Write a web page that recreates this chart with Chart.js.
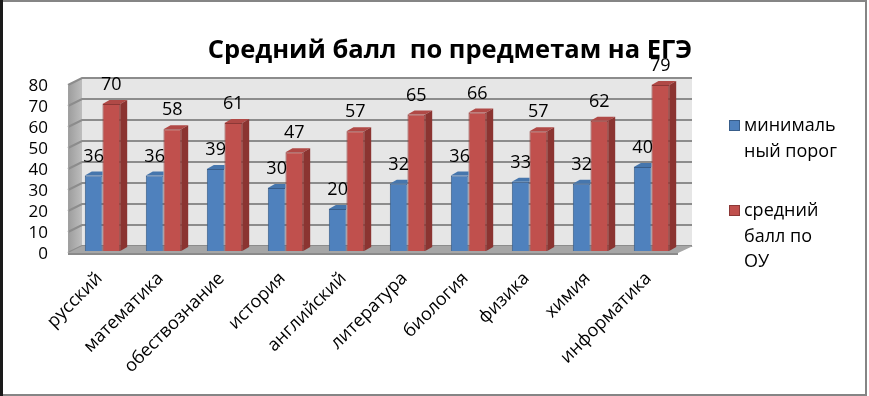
<!DOCTYPE html>
<html><head><meta charset="utf-8">
<script src="https://cdn.jsdelivr.net/npm/chart.js@4.4.1/dist/chart.umd.min.js"></script>
<style>html,body{margin:0;padding:0;background:#fff;overflow:hidden}</style>
</head><body>
<canvas id="c" width="869" height="396" style="display:block;width:869px;height:396px"></canvas>
<script>
const categories = ['русский','математика','обествознание','история','английский','литература','биология','физика','химия','информатика'];
const minScores = [36,36,39,30,20,32,36,33,32,40];
const avgScores = [70,58,61,47,57,65,66,57,62,79];
const yTicks = [0,10,20,30,40,50,60,70,80];
const seriesNames = ['минимальный порог','средний балл по ОУ'];
const legendLines = [['минималь','ный порог'],['средний','балл по','ОУ']];
const titleText = 'Средний балл  по предметам на ЕГЭ';

const FONT = '"Open Sans", "Liberation Sans", sans-serif';
const frontColors = ['#4f81bd','#c0504d'];
const borderColors = ['#385d8a','#8c3836'];
const topColors = ['#4676ad','#b04946'];
const sideColors = ['#375f8f','#8b3431'];
const BAR_DX = 7, BAR_DY = -4;

const framePlugin = {
  id:'frame',
  beforeDraw(chart){
    const ctx = chart.ctx;
    ctx.save();
    ctx.fillStyle = '#fff';
    ctx.fillRect(0,0,chart.width,chart.height);
    ctx.fillStyle = '#858585';
    ctx.fillRect(0,0,867,2);
    ctx.fillRect(865,0,2,396);
    ctx.fillRect(0,394,867,2);
    ctx.fillStyle = '#1a1a1a';
    ctx.fillRect(0,0,3,396);
    ctx.fillStyle = '#000';
    ctx.font = 'bold 25.5px ' + FONT;
    ctx.textAlign = 'center';
    ctx.textBaseline = 'middle';
    ctx.fillText(titleText, 450, 51);
    ctx.restore();
  }
};

const wallsPlugin = {
  id:'walls',
  beforeDatasetsDraw(chart){
    const ctx = chart.ctx, ca = chart.chartArea, ys = chart.scales.y;
    const bl = ca.left + 10, br = ca.right + 10;
    const bt = ys.getPixelForValue(yTicks[yTicks.length-1]) - 5;
    const bb = ys.getPixelForValue(0) - 5;
    const sf = ca.left - 4;
    ctx.save();
    ctx.fillStyle = '#e6e6e6';
    ctx.fillRect(bl, bt, br - bl, bb - bt);
    const g = ctx.createLinearGradient(sf,0,bl,0);
    g.addColorStop(0,'#9c9c9c'); g.addColorStop(1,'#bdbdbd');
    ctx.fillStyle = g;
    ctx.beginPath();
    ctx.moveTo(sf, bt+7); ctx.lineTo(bl, bt); ctx.lineTo(bl, bb); ctx.lineTo(sf, bb+7); ctx.closePath();
    ctx.fill();
    ctx.strokeStyle = '#8c8c8c';
    ctx.lineWidth = 2;
    yTicks.forEach(v => {
      const y = ys.getPixelForValue(v) - 5;
      ctx.beginPath();
      ctx.moveTo(sf, y+7); ctx.lineTo(bl, y); ctx.lineTo(br, y);
      ctx.stroke();
    });
    ctx.strokeStyle = '#a0a0a0';
    ctx.lineWidth = 1;
    ctx.beginPath(); ctx.moveTo(sf+0.5, bt+7); ctx.lineTo(sf+0.5, bb+7); ctx.stroke();
    ctx.fillStyle = '#a6a6a6';
    ctx.beginPath();
    ctx.moveTo(sf, bb+7); ctx.lineTo(bl, bb); ctx.lineTo(br+1, bb); ctx.lineTo(br-14, bb+7); ctx.closePath();
    ctx.fill();
    ctx.fillStyle = '#8a8a8a';
    ctx.fillRect(sf, bb+7, (br-14)-sf, 2);
    ctx.restore();
  }
};

const depthPlugin = {
  id:'depth',
  afterDatasetDraw(chart, args){
    const ctx = chart.ctx, meta = args.meta, di = args.index;
    const last = di === chart.data.datasets.length - 1;
    ctx.save();
    meta.data.forEach(bar => {
      const l = bar.x - bar.width/2, r = bar.x + bar.width/2, t = bar.y, b = bar.base;
      ctx.fillStyle = topColors[di];
      ctx.beginPath();
      if (last) {
        ctx.moveTo(l,t); ctx.lineTo(l+BAR_DX,t+BAR_DY); ctx.lineTo(r+BAR_DX,t+BAR_DY); ctx.lineTo(r,t);
      } else {
        ctx.moveTo(l,t); ctx.lineTo(l+BAR_DX,t+BAR_DY); ctx.lineTo(r,t+BAR_DY); ctx.lineTo(r,t);
      }
      ctx.closePath();
      ctx.fill();
      if (last) {
        ctx.fillStyle = sideColors[di];
        ctx.beginPath();
        ctx.moveTo(r,t); ctx.lineTo(r+BAR_DX,t+BAR_DY); ctx.lineTo(r+BAR_DX,b+BAR_DY); ctx.lineTo(r,b); ctx.closePath();
        ctx.fill();
      }
    });
    ctx.restore();
  }
};

const labelsPlugin = {
  id:'vlabels',
  afterDatasetsDraw(chart){
    const ctx = chart.ctx;
    ctx.save();
    ctx.fillStyle = '#000';
    ctx.font = '18px ' + FONT;
    ctx.textAlign = 'center';
    ctx.textBaseline = 'middle';
    chart.data.datasets.forEach((ds, di) => {
      chart.getDatasetMeta(di).data.forEach((bar, i) => {
        ctx.fillText(String(ds.data[i]), bar.x, bar.y - 19);
      });
    });
    ctx.restore();
  }
};

const legendPlugin = {
  id:'customLegend',
  afterDraw(chart){
    const ctx = chart.ctx;
    ctx.save();
    ctx.font = '18px ' + FONT;
    ctx.textAlign = 'left';
    ctx.textBaseline = 'middle';
    const starts = [126, 211];
    legendLines.forEach((lines, di) => {
      const y0 = starts[di];
      ctx.fillStyle = frontColors[di];
      ctx.fillRect(729, y0-6, 11, 11);
      ctx.strokeStyle = borderColors[di];
      ctx.lineWidth = 1;
      ctx.strokeRect(729.5, y0-5.5, 10, 10);
      ctx.fillStyle = '#000';
      lines.forEach((ln, k) => ctx.fillText(ln, 744, y0 + k*25.5));
    });
    ctx.restore();
  }
};

new Chart(document.getElementById('c'), {
  type:'bar',
  data:{
    labels: categories,
    datasets:[
      {label: seriesNames[0], data: minScores, backgroundColor: frontColors[0], borderColor: borderColors[0], borderWidth: 1},
      {label: seriesNames[1], data: avgScores, backgroundColor: frontColors[1], borderColor: borderColors[1], borderWidth: 1}
    ]
  },
  options:{
    responsive:false,
    animation:false,
    devicePixelRatio:1,
    layout:{padding:{left:0,right:187,top:83,bottom:0}},
    datasets:{bar:{categoryPercentage:0.58, barPercentage:1}},
    plugins:{legend:{display:false}, title:{display:false}, tooltip:{enabled:false}},
    scales:{
      x:{
        grid:{display:false, drawTicks:false},
        border:{display:false},
        ticks:{color:'#000', font:{family:FONT, size:18}, maxRotation:45, minRotation:45, autoSkip:false, padding:17, labelOffset:-3},
        afterFit(s){ s.height = 145; }
      },
      y:{
        min:0, max:80,
        grid:{display:false, drawTicks:false},
        border:{display:false},
        afterBuildTicks(s){ s.ticks = yTicks.map(v => ({value:v})); },
        ticks:{color:'#000', font:{family:FONT, size:17}, padding:24, labelOffset:3, autoSkip:false},
        afterFit(s){ s.width = 72; }
      }
    }
  },
  plugins:[framePlugin, wallsPlugin, depthPlugin, labelsPlugin, legendPlugin]
});
</script>
</body></html>
